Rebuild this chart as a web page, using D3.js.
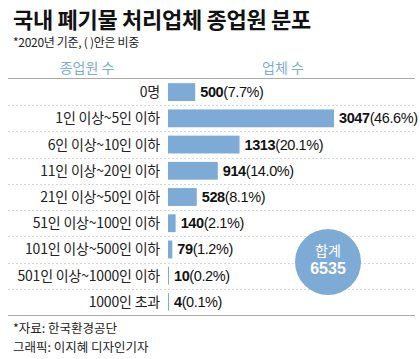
<!DOCTYPE html>
<html><head><meta charset="utf-8">
<script src="https://cdn.jsdelivr.net/npm/d3@7"></script>
<style>
body{margin:0;background:#fff;}
svg{display:block;font-family:"Noto Sans CJK KR","Liberation Sans",sans-serif;}
</style></head>
<body><svg id="c" width="420" height="359"></svg>
<script>
const categories = ["0명","1인 이상~5인 이하","6인 이상~10인 이하","11인 이상~20인 이하","21인 이상~50인 이하","51인 이상~100인 이하","101인 이상~500인 이하","501인 이상~1000인 이하","1000인 초과"];
const counts = [500,3047,1313,914,528,140,79,10,4];
const shares = ["7.7%","46.6%","20.1%","14.0%","8.1%","2.1%","1.2%","0.2%","0.1%"];
const total = 6535;

const svg = d3.select("#c");
const blue = "#7eaad6";
const numFont = "'Liberation Sans Narrow','Liberation Sans',Arial,sans-serif";

svg.append("text").attr("x",13).attr("y",28).attr("font-size",22).attr("font-weight",700).attr("fill","#111")
  .attr("letter-spacing",-0.3).text("국내 폐기물 처리업체 종업원 분포");
svg.append("text").attr("x",13).attr("y",47).attr("font-size",12).attr("fill","#222").attr("letter-spacing",-0.3)
  .text("*2020년 기준, ( )안은 비중");
svg.append("text").attr("x",87).attr("y",73).attr("text-anchor","middle").attr("font-size",14).attr("fill",blue).text("종업원 수");
svg.append("text").attr("x",283).attr("y",73).attr("text-anchor","middle").attr("font-size",14).attr("fill",blue).text("업체 수");

svg.append("line").attr("x1",8).attr("x2",415).attr("y1",78.5).attr("y2",78.5).attr("stroke","#aaa").attr("stroke-width",1);
svg.append("line").attr("x1",8).attr("x2",415).attr("y1",315.5).attr("y2",315.5).attr("stroke","#aaa").attr("stroke-width",1);

const y = d3.scaleBand().domain(categories).range([79,315]).paddingInner(0.32).paddingOuter(0.16);
const x = d3.scaleLinear().domain([0,3047]).range([168,334]);

const step = y.step();
categories.slice(0,-1).forEach((c,i)=>{
  const yy = Math.round(y(c)+y.bandwidth()/2+step/2)+0.5;
  svg.append("line").attr("x1",8).attr("x2",415).attr("y1",yy).attr("y2",yy)
    .attr("stroke","#d6d6d6").attr("stroke-dasharray","2,2");
});

svg.selectAll("rect.bar").data(categories).join("rect").attr("class","bar")
  .attr("x",x(0)).attr("y",d=>y(d)).attr("height",y.bandwidth())
  .attr("width",(d,i)=>Math.max(1,x(counts[i])-x(0))).attr("fill",blue);

svg.selectAll("text.cat").data(categories).join("text").attr("class","cat")
  .attr("x",160).attr("y",d=>y(d)+y.bandwidth()/2+5).attr("text-anchor","end")
  .attr("font-size",14).attr("fill","#222").attr("letter-spacing",-0.2).text(d=>d);

const lab = svg.selectAll("text.val").data(categories).join("text").attr("class","val")
  .attr("x",(d,i)=>Math.max(x(counts[i]),x(0)+1)+5).attr("y",d=>y(d)+y.bandwidth()/2+5)
  .attr("font-size",14.5).attr("fill","#111").attr("font-family",numFont).attr("letter-spacing",-0.4);
lab.append("tspan").attr("font-weight",700).text((d,i)=>counts[i]);
lab.append("tspan").attr("font-weight",400).text((d,i)=>"("+shares[i]+")");

svg.append("circle").attr("cx",328).attr("cy",262).attr("r",33).attr("fill",blue);
svg.append("text").attr("x",328).attr("y",256).attr("text-anchor","middle").attr("font-size",14).attr("fill","#fff").text("합계");
svg.append("text").attr("x",328).attr("y",274).attr("text-anchor","middle").attr("font-size",16).attr("font-weight",700)
  .attr("font-family",numFont).attr("fill","#fff").text(total);

svg.append("text").attr("x",13).attr("y",333).attr("font-size",12.5).attr("fill","#222").text("*자료: 한국환경공단");
svg.append("text").attr("x",13).attr("y",352).attr("font-size",12.5).attr("fill","#222").text("그래픽: 이지혜 디자인기자");
</script></body></html>
